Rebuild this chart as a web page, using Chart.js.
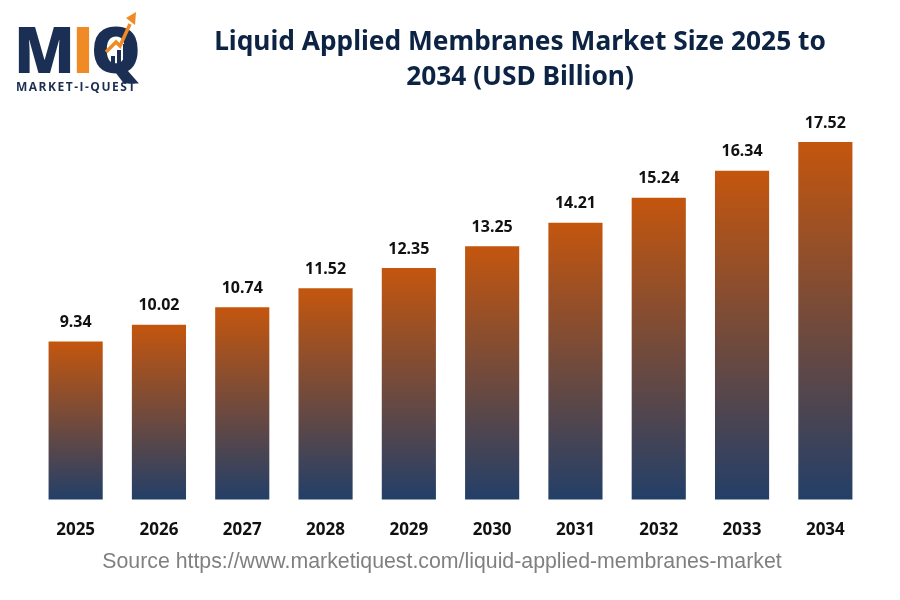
<!DOCTYPE html>
<html>
<head>
<meta charset="utf-8">
<script src="https://cdn.jsdelivr.net/npm/chart.js@4.4.0/dist/chart.umd.min.js"></script>
<style>
  html, body { margin: 0; padding: 0; background: #fff; }
  #wrap { position: relative; width: 900px; height: 600px; overflow: hidden; }
  #chart { position: absolute; left: 0; top: 0; }
  .title {
    position: absolute; left: 140px; width: 760px; top: 23px;
    text-align: center; font-family: "Noto Sans", sans-serif; font-weight: 700;
    font-size: 26.3px; line-height: 35px; color: #0c2343;
  }
  .source {
    position: absolute; left: -8px; width: 900px; top: 549px; text-align: center;
    font-family: "Liberation Sans", Arial, sans-serif; font-size: 21.3px; color: #808080;
  }
  .logo { position: absolute; left: 14px; top: 12px; width: 130px; height: 80px; }
  .logo .big {
    position: absolute; top: 5px; left: 0; font-family: "Open Sans", sans-serif;
    font-weight: 800; font-size: 63px; line-height: 63px; letter-spacing: -3px; color: #1b2f55;
  }
  .logo .big .i { color: #f08a24; }
  .logo .small {
    position: absolute; top: 66px; left: 2px; font-family: "Open Sans", sans-serif;
    font-weight: 700; font-size: 12px; letter-spacing: 1.5px; color: #1b2f55;
  }
  .logo svg { position: absolute; left: 0; top: 0; }
</style>
</head>
<body>
<div id="wrap">
  <canvas id="chart" width="900" height="600"></canvas>
  <div class="logo">
    <div class="big">M<span class="i">I</span>Q</div>
    <svg width="130" height="70" viewBox="0 0 130 70">
      <rect x="97" y="44" width="4" height="8" fill="#1b2f55"/>
      <rect x="103" y="38" width="4" height="14" fill="#1b2f55"/>
      <rect x="109" y="32" width="4" height="20" fill="#1b2f55"/>
      <polyline points="92,40 102,30 106,34 116,12" fill="none" stroke="#f08a24" stroke-width="3.5"/>
      <polygon points="112,6 122,0 121,13" fill="#f08a24"/>
    </svg>
    <div class="small">MARKET-I-QUEST</div>
  </div>
  <div class="title">Liquid Applied Membranes Market Size 2025 to<br>2034 (USD Billion)</div>
  <div class="source">Source https://www.marketiquest.com/liquid-applied-membranes-market</div>
</div>
<script>
const years = ['2025', '2026', '2027', '2028', '2029', '2030', '2031', '2032', '2033', '2034'];
const marketSize = [9.34, 10.02, 10.74, 11.52, 12.35, 13.25, 14.21, 15.24, 16.34, 17.52];

const topColor = '#c4560e';
const bottomColor = '#233f68';

function barGradient(context) {
  const chart = context.chart;
  const area = chart.chartArea;
  if (!area || context.parsed === undefined) return topColor;
  const yScale = chart.scales.y;
  const top = yScale.getPixelForValue(context.parsed.y);
  const g = chart.ctx.createLinearGradient(0, top, 0, area.bottom);
  g.addColorStop(0, topColor);
  g.addColorStop(1, bottomColor);
  return g;
}

const valueLabels = {
  id: 'valueLabels',
  afterDatasetsDraw(chart) {
    const ctx = chart.ctx;
    const meta = chart.getDatasetMeta(0);
    ctx.save();
    ctx.font = '700 16px "Noto Sans", sans-serif';
    ctx.fillStyle = '#111';
    ctx.textAlign = 'center';
    ctx.textBaseline = 'middle';
    meta.data.forEach((bar, i) => {
      ctx.fillText(marketSize[i].toFixed(2), bar.x, bar.y - 19);
    });
    ctx.restore();
  }
};

new Chart(document.getElementById('chart'), {
  type: 'bar',
  data: {
    labels: years,
    datasets: [{
      data: marketSize,
      backgroundColor: barGradient,
      borderWidth: 0,
      categoryPercentage: 1,
      barPercentage: 0.65
    }]
  },
  options: {
    responsive: false,
    animation: false,
    layout: { padding: { left: 34, right: 33, top: 106, bottom: 40 } },
    plugins: { legend: { display: false }, tooltip: { enabled: false }, title: { display: false } },
    scales: {
      x: {
        grid: { display: false, drawTicks: false },
        border: { display: false },
        ticks: { color: '#111', padding: 20, font: { family: 'Noto Sans', weight: '700', size: 17 } }
      },
      y: { display: false, min: 2.85, max: 19 }
    }
  },
  plugins: [valueLabels]
});
</script>
</body>
</html>
